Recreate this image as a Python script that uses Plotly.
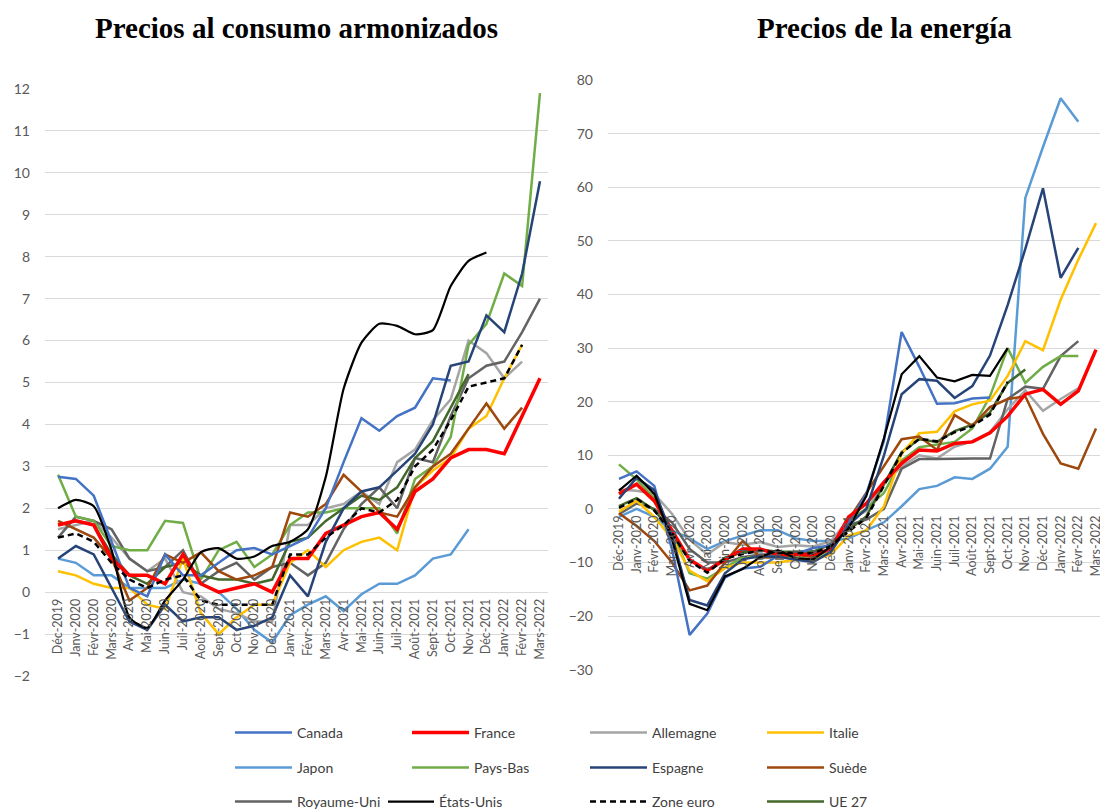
import plotly.graph_objects as go

W, H = 1108, 810
OFF = 8  # the page body margin shifts the figure by 8 px right and down

months = ["Déc-2019", "Janv-2020", "Févr-2020", "Mars-2020", "Avr-2020", "Mai-2020",
          "Juin-2020", "Juil-2020", "Août-2020", "Sept-2020", "Oct-2020", "Nov-2020",
          "Déc-2020", "Janv-2021", "Févr-2021", "Mars-2021", "Avr-2021", "Mai-2021",
          "Juin-2021", "Juil-2021", "Août-2021", "Sept-2021", "Oct-2021", "Nov-2021",
          "Déc-2021", "Janv-2022", "Févr-2022", "Mars-2022"]

# ---- Left chart: harmonised consumer prices (y/y %) ----
hicp_canada = [2.75, 2.7, 2.3, 1.2, 0.1, -0.1, 0.9, 0.4, 0.4, 0.7, 1.0, 1.05, 0.9, 1.1, 1.3, 2.0, 3.1, 4.15, 3.85, 4.2, 4.4, 5.1, 5.05]
hicp_france = [1.6, 1.7, 1.6, 0.8, 0.4, 0.4, 0.2, 0.9, 0.2, 0.0, 0.1, 0.2, 0.0, 0.8, 0.8, 1.4, 1.6, 1.8, 1.9, 1.5, 2.4, 2.7, 3.2, 3.4, 3.4, 3.3, 4.2, 5.1]
hicp_allemagne = [1.5, 1.6, 1.7, 1.3, 0.8, 0.5, 0.8, 0.0, -0.1, -0.4, -0.5, -0.7, -0.7, 1.6, 1.6, 2.0, 2.1, 2.4, 2.1, 3.1, 3.4, 4.1, 4.6, 6.0, 5.7, 5.1, 5.5]
hicp_italie = [0.5, 0.4, 0.2, 0.1, 0.1, -0.3, -0.4, 0.8, -0.5, -1.0, -0.6, -0.3, -0.3, 0.7, 1.0, 0.6, 1.0, 1.2, 1.3, 1.0, 2.5, 2.9, 3.2, 3.9, 4.2, 5.1, 5.9]
hicp_japon = [0.8, 0.7, 0.4, 0.4, 0.1, 0.1, 0.1, 0.3, 0.2, 0.0, -0.4, -0.9, -1.2, -0.55, -0.3, -0.1, -0.45, -0.05, 0.2, 0.2, 0.4, 0.8, 0.9, 1.5]
hicp_paysbas = [2.8, 1.8, 1.7, 1.1, 1.0, 1.0, 1.7, 1.65, 0.3, 1.0, 1.2, 0.6, 0.9, 1.6, 1.9, 1.9, 2.0, 2.0, 2.0, 1.4, 2.7, 3.0, 3.7, 5.9, 6.4, 7.6, 7.3, 11.9]
hicp_espagne = [0.8, 1.1, 0.9, 0.1, -0.7, -0.9, -0.3, -0.7, -0.6, -0.6, -0.9, -0.8, -0.6, 0.4, -0.1, 1.2, 2.0, 2.4, 2.5, 2.9, 3.3, 4.0, 5.4, 5.5, 6.6, 6.2, 7.6, 9.8]
hicp_suede = [1.7, 1.5, 1.3, 0.8, -0.2, 0.1, 0.9, 0.7, 0.95, 0.5, 0.3, 0.4, 0.6, 1.9, 1.8, 2.1, 2.8, 2.4, 1.9, 1.8, 2.5, 3.0, 3.3, 3.9, 4.5, 3.9, 4.4]
hicp_royaumeuni = [1.3, 1.8, 1.7, 1.5, 0.8, 0.5, 0.6, 1.0, 0.2, 0.5, 0.7, 0.3, 0.6, 0.7, 0.4, 0.7, 1.5, 2.1, 2.5, 2.0, 3.2, 3.1, 4.2, 5.1, 5.4, 5.5, 6.2, 7.0]
hicp_etatsunis = [2.0, 2.2, 2.05, 1.0, -0.6, -0.85, -0.2, 0.3, 0.95, 1.05, 0.8, 0.85, 1.1, 1.2, 1.5, 2.75, 4.85, 5.95, 6.4, 6.35, 6.15, 6.25, 7.3, 7.9, 8.1]
hicp_zoneeuro = [1.3, 1.4, 1.2, 0.7, 0.3, 0.1, 0.3, 0.4, -0.2, -0.3, -0.3, -0.3, -0.3, 0.9, 0.9, 1.3, 1.6, 2.0, 1.9, 2.2, 3.0, 3.4, 4.1, 4.9, 5.0, 5.1, 5.9]
hicp_ue27 = [1.6, 1.7, 1.6, 0.9, 0.4, 0.2, 0.6, 0.7, 0.4, 0.3, 0.3, 0.2, 0.3, 1.2, 1.3, 1.7, 2.0, 2.3, 2.2, 2.5, 3.2, 3.6, 4.4, 5.2]

# ---- Right chart: energy prices (y/y %) ----
en_canada = [5.6, 7.0, 4.3, -7.5, -23.5, -19.5, -12.8, -11.1, -10.8, -8.7, -8.4, -7.3, -6.8, -2.6, 2.8, 12.7, 33.0, 26.5, 19.6, 19.7, 20.6, 20.8]
en_france = [2.8, 4.6, 1.5, -4.0, -9.5, -11.5, -9.5, -7.5, -7.5, -8.5, -8.5, -8.5, -7.5, -1.5, 1.0, 5.0, 8.5, 11.0, 10.8, 12.2, 12.5, 14.2, 17.3, 21.4, 22.3, 19.5, 22.0, 29.7]
en_allemagne = [3.6, 3.4, 2.8, -0.9, -5.8, -8.5, -6.2, -6.7, -6.2, -7.1, -6.8, -7.0, -6.0, -2.0, -0.4, 4.8, 7.9, 10.0, 9.4, 11.6, 12.6, 14.3, 18.6, 22.1, 18.3, 20.5, 22.5]
en_italie = [-0.5, 1.5, -1.5, -5.5, -11.5, -13.5, -11.0, -10.0, -10.0, -10.0, -9.5, -9.5, -8.5, -5.0, -4.0, 0.5, 10.3, 14.1, 14.4, 18.2, 19.5, 20.2, 24.8, 31.3, 29.6, 39.0, 46.5, 53.3]
en_japon = [-1.5, 0.0, -1.5, -4.0, -5.5, -7.5, -6.0, -5.0, -4.0, -4.0, -5.5, -6.0, -6.0, -5.5, -4.0, -2.5, 0.5, 3.7, 4.3, 5.9, 5.6, 7.5, 11.6, 58.0, 67.5, 76.6, 72.2]
en_paysbas = [8.3, 5.5, 2.0, -4.0, -12.0, -13.0, -11.0, -9.0, -9.0, -9.0, -9.0, -9.5, -8.0, -2.0, 0.0, 3.0, 9.0, 11.5, 12.0, 12.5, 15.0, 21.0, 30.0, 23.5, 26.5, 28.5, 28.5]
en_espagne = [1.9, 5.8, 3.5, -5.0, -17.0, -18.0, -12.0, -9.4, -8.8, -8.9, -9.5, -9.9, -8.0, -3.0, 0.0, 10.0, 21.4, 24.2, 23.9, 20.7, 22.9, 28.6, 38.0, 48.5, 59.8, 43.1, 48.7]
en_suede = [-0.8, -3.2, -6.0, -10.0, -15.2, -14.3, -10.0, -6.0, -9.0, -9.0, -8.5, -9.0, -7.5, -2.0, 3.0, 8.0, 13.0, 13.5, 11.0, 17.5, 15.5, 19.0, 20.5, 21.0, 14.0, 8.5, 7.5, 15.0]
en_royaumeuni = [-1.0, 1.0, 0.0, -2.5, -7.5, -10.0, -10.0, -9.0, -8.5, -8.5, -8.0, -8.0, -6.5, -3.0, -2.0, 0.0, 7.5, 9.3, 9.3, 9.4, 9.4, 9.4, 20.5, 22.8, 22.4, 28.5, 31.3]
en_etatsunis = [3.4, 6.2, 2.8, -5.7, -17.7, -18.9, -12.6, -11.2, -9.0, -7.7, -9.2, -9.4, -7.0, -3.6, 2.4, 13.2, 25.1, 28.5, 24.5, 23.8, 25.0, 24.8, 30.0]
en_zoneeuro = [0.2, 1.9, -0.3, -4.5, -9.7, -11.9, -9.3, -8.4, -7.8, -8.2, -8.2, -8.3, -6.9, -4.2, -1.7, 4.3, 10.4, 13.1, 12.6, 14.3, 15.4, 17.6, 23.7]
en_ue27 = [0.5, 2.0, -0.2, -4.3, -9.5, -11.6, -9.1, -8.1, -7.6, -8.0, -8.0, -8.0, -6.6, -3.9, -1.4, 4.6, 10.6, 13.0, 12.5, 14.5, 15.7, 18.0, 23.5, 26.0]

series_names = ["Canada", "France", "Allemagne", "Italie", "Japon", "Pays-Bas",
                "Espagne", "Suède", "Royaume-Uni", "États-Unis", "Zone euro", "UE 27"]
left_data = [hicp_canada, hicp_france, hicp_allemagne, hicp_italie, hicp_japon, hicp_paysbas,
             hicp_espagne, hicp_suede, hicp_royaumeuni, hicp_etatsunis, hicp_zoneeuro, hicp_ue27]
right_data = [en_canada, en_france, en_allemagne, en_italie, en_japon, en_paysbas,
              en_espagne, en_suede, en_royaumeuni, en_etatsunis, en_zoneeuro, en_ue27]

colors = ["#4472C4", "#FF0000", "#A5A5A5", "#FFC000", "#5B9BD5", "#70AD47",
          "#264478", "#9E480E", "#636363", "#000000", "#000000", "#43682B"]
widths = [2.5, 3.5, 2.5, 2.5, 2.5, 2.5, 2.5, 2.5, 2.5, 2.2, 2.5, 2.5]
dashes = ["solid"] * 10 + ["6px,4px", "solid"]

# legend layout: 3 rows x 4 columns (screen px of the line-sample start)
legend_rows = [733, 768, 802]
legend_cols = [235, 412, 590, 767]
legend_ids = ["legend" if k == 0 else "legend%d" % (k + 1) for k in range(12)]

# draw order (later = on top)
order = [4, 2, 8, 5, 11, 3, 7, 0, 1, 6, 9, 10]

fig = go.Figure()
for i in order:
    name = series_names[i]
    for side, data in (("L", left_data[i]), ("R", right_data[i])):
        fig.add_trace(go.Scatter(
            x=months[:len(data)], y=data, mode="lines", name=name,
            line=dict(color=colors[i], width=widths[i], dash=dashes[i],
                      shape="spline" if (side == "L" and i == 9) else "linear",
                      smoothing=0.6),
            xaxis="x" if side == "L" else "x2",
            yaxis="y" if side == "L" else "y2",
            legend=legend_ids[i],
            showlegend=(side == "L"),
        ))

def px_x(p):
    return (p - OFF) / W

def px_y(p):
    return 1 - (p - OFF) / H

# plot areas (screen-pixel geometry of the reference)
L_dom_x = [px_x(45), px_x(548)]
L_dom_y = [px_y(676), px_y(89)]
R_dom_x = [px_x(608), px_x(1108)]
R_dom_y = [px_y(669.75), px_y(80)]
L_yr = [-2, 12]
R_yr = [-30, 80]
L_xr = [-0.73, 27.45]
R_xr = [-0.62, 27.68]

def zero_pos(dom, yr):
    return dom[0] + (0 - yr[0]) / (yr[1] - yr[0]) * (dom[1] - dom[0])

tick_font = dict(family="Lato, Open Sans, sans-serif", size=12.5, color="#595959")
ytick_font = dict(family="Lato, Open Sans, sans-serif", size=14, color="#595959")

xcommon = dict(type="category", categoryorder="array", categoryarray=months,
               tickmode="array", tickvals=months, ticktext=months,
               tickangle=-90, tickfont=tick_font, showgrid=False, zeroline=False,
               showline=False, ticks="", anchor="free", ticklabelstandoff=3,
               automargin=False, fixedrange=True)
ycommon = dict(showgrid=True, gridcolor="#D9D9D9", gridwidth=1, zeroline=False,
               showline=False, ticks="", tickfont=ytick_font, ticklabelstandoff=14,
               automargin=False, fixedrange=True)

fig.update_layout(
    width=W, height=H,
    margin=dict(l=0, r=0, t=0, b=0, autoexpand=False),
    paper_bgcolor="white", plot_bgcolor="white",
    showlegend=True,
    xaxis=dict(domain=L_dom_x, range=L_xr, position=zero_pos(L_dom_y, L_yr), **xcommon),
    yaxis=dict(domain=L_dom_y, range=L_yr, dtick=1, tick0=0, **ycommon),
    xaxis2=dict(domain=R_dom_x, range=R_xr, position=zero_pos(R_dom_y, R_yr), **xcommon),
    yaxis2=dict(domain=R_dom_y, range=R_yr, dtick=10, tick0=0, anchor="x2", **ycommon),
)

legend_font = dict(family="Lato, Open Sans, sans-serif", size=14, color="#404040")
for k, lid in enumerate(legend_ids):
    row, col = divmod(k, 4)
    xs = legend_cols[col]
    iw = 57
    if k == 9:  # "États-Unis" sits right after the long "Royaume-Uni" label
        xs, iw = 388, 46
    fig.update_layout({lid: dict(
        orientation="h", x=px_x(xs - 5), xanchor="left", y=px_y(legend_rows[row]),
        yanchor="middle", font=legend_font, itemwidth=iw,
        bgcolor="rgba(0,0,0,0)", borderwidth=0, itemclick=False, itemdoubleclick=False)})

title_font = dict(family="Liberation Serif, Times New Roman, serif", size=29, color="black")
fig.add_annotation(text="<b>Precios al consumo armonizados</b>", x=px_x(296), y=px_y(28),
                   xref="paper", yref="paper", showarrow=False, font=title_font,
                   xanchor="center", yanchor="middle")
fig.add_annotation(text="<b>Precios de la energía</b>", x=px_x(884), y=px_y(28),
                   xref="paper", yref="paper", showarrow=False, font=title_font,
                   xanchor="center", yanchor="middle")

fig.write_html("out.html")
